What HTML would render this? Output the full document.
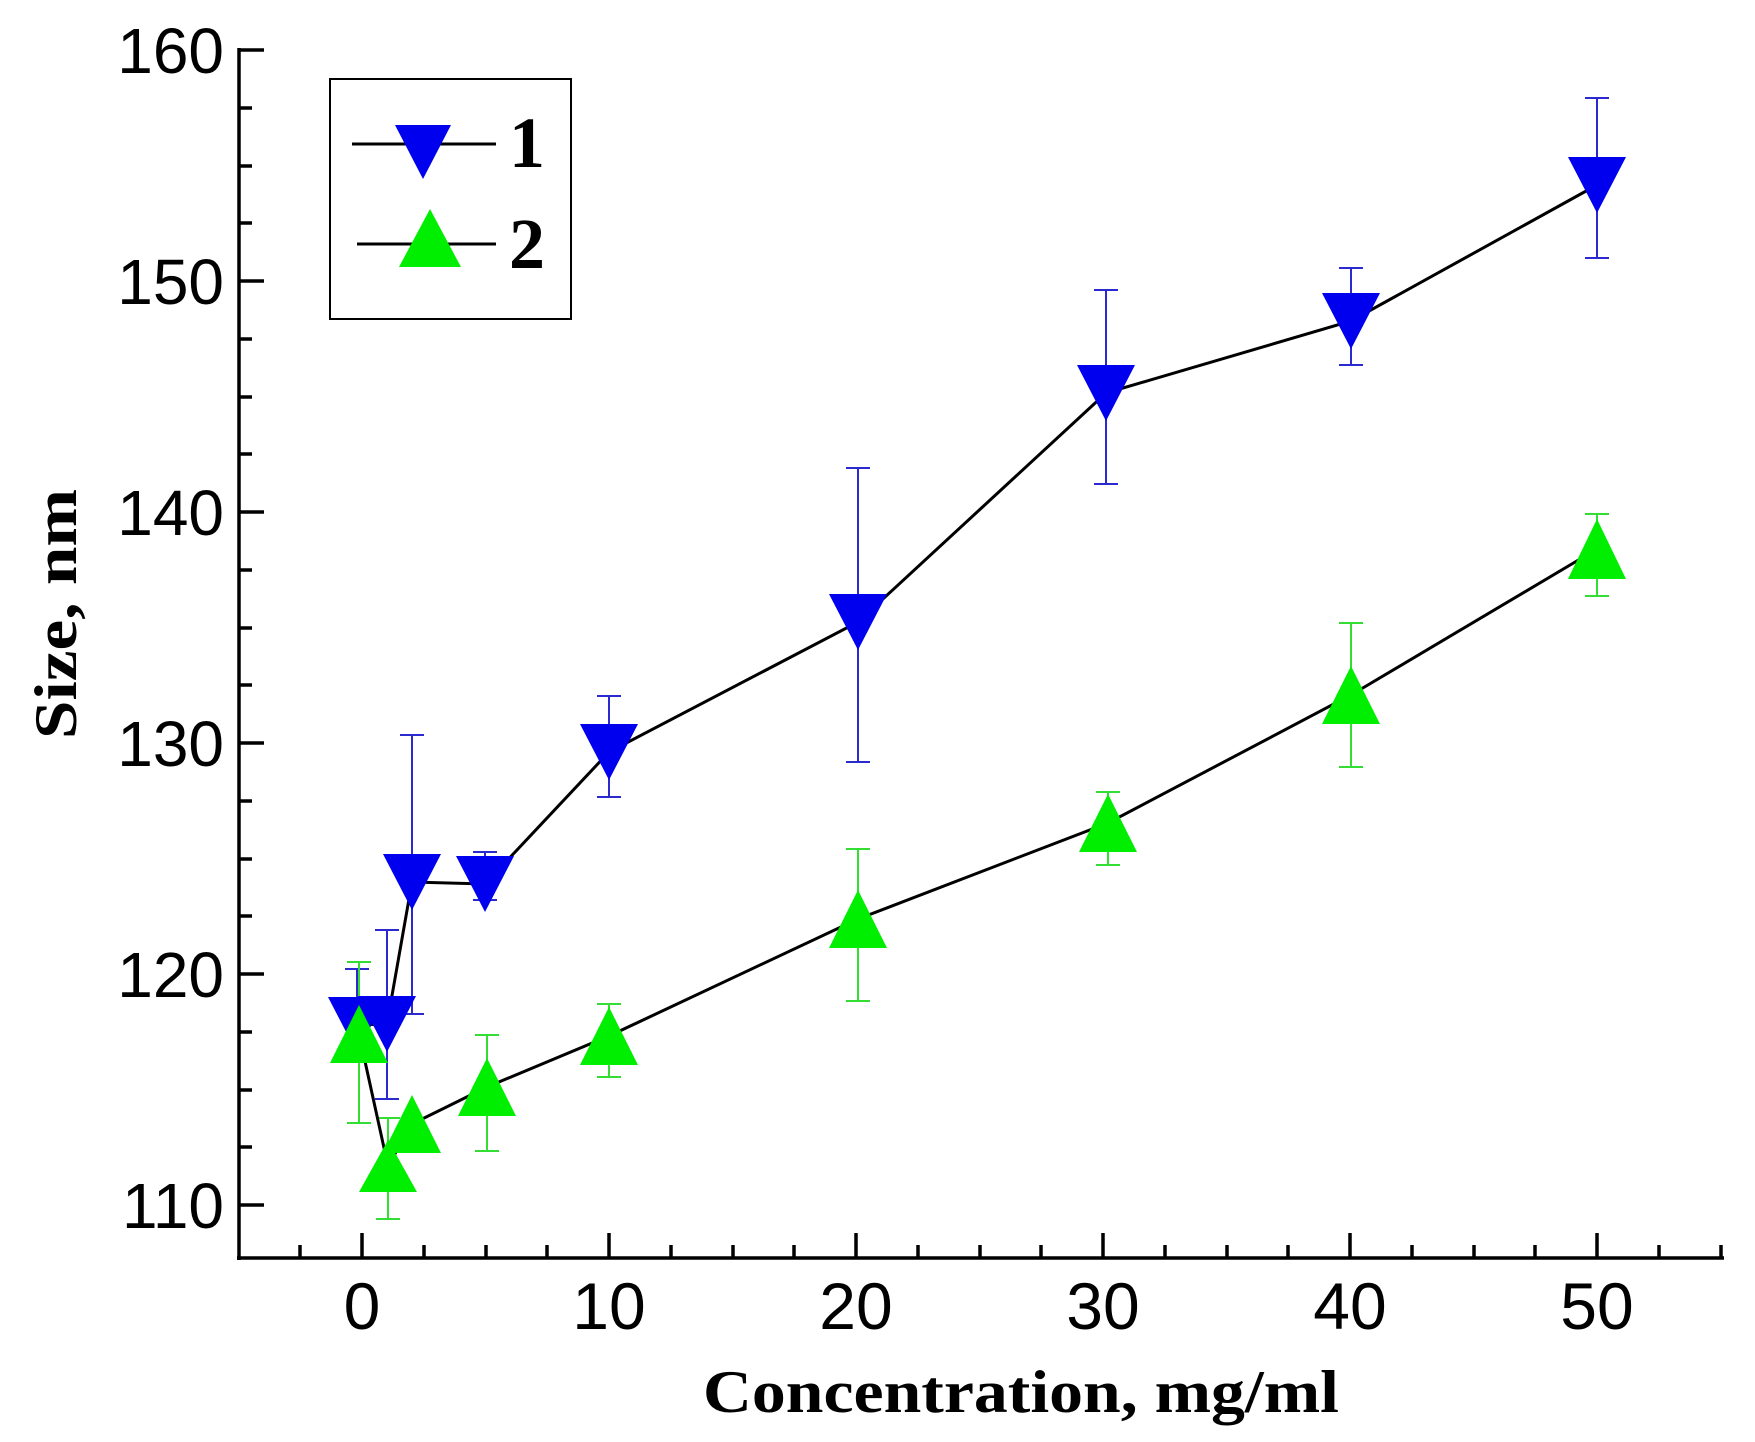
<!DOCTYPE html>
<html><head><meta charset="utf-8"><style>html,body{margin:0;padding:0;background:#fff}svg{display:block}</style></head>
<body>
<svg width="1755" height="1442" viewBox="0 0 1755 1442" xmlns="http://www.w3.org/2000/svg">
<rect width="1755" height="1442" fill="#fff"/>
<g stroke="#000" stroke-width="3.5" fill="none">
<line x1="239" y1="48" x2="239" y2="1260"/>
<line x1="237" y1="1258" x2="1724" y2="1258"/>
<line x1="239" y1="50" x2="264" y2="50"/><line x1="239" y1="281" x2="264" y2="281"/><line x1="239" y1="512" x2="264" y2="512"/><line x1="239" y1="743" x2="264" y2="743"/><line x1="239" y1="974" x2="264" y2="974"/><line x1="239" y1="1205" x2="264" y2="1205"/>
<line x1="239" y1="108" x2="252" y2="108"/><line x1="239" y1="166" x2="252" y2="166"/><line x1="239" y1="223" x2="252" y2="223"/>
<line x1="239" y1="339" x2="252" y2="339"/><line x1="239" y1="397" x2="252" y2="397"/><line x1="239" y1="454" x2="252" y2="454"/>
<line x1="239" y1="570" x2="252" y2="570"/><line x1="239" y1="628" x2="252" y2="628"/><line x1="239" y1="685" x2="252" y2="685"/>
<line x1="239" y1="801" x2="252" y2="801"/><line x1="239" y1="859" x2="252" y2="859"/><line x1="239" y1="916" x2="252" y2="916"/>
<line x1="239" y1="1032" x2="252" y2="1032"/><line x1="239" y1="1090" x2="252" y2="1090"/><line x1="239" y1="1147" x2="252" y2="1147"/>
<line x1="362" y1="1258" x2="362" y2="1233"/><line x1="609" y1="1258" x2="609" y2="1233"/><line x1="856" y1="1258" x2="856" y2="1233"/><line x1="1103" y1="1258" x2="1103" y2="1233"/><line x1="1350" y1="1258" x2="1350" y2="1233"/><line x1="1597" y1="1258" x2="1597" y2="1233"/>
<line x1="300" y1="1258" x2="300" y2="1245"/><line x1="424" y1="1258" x2="424" y2="1245"/><line x1="486" y1="1258" x2="486" y2="1245"/><line x1="547" y1="1258" x2="547" y2="1245"/>
<line x1="671" y1="1258" x2="671" y2="1245"/><line x1="733" y1="1258" x2="733" y2="1245"/><line x1="794" y1="1258" x2="794" y2="1245"/>
<line x1="918" y1="1258" x2="918" y2="1245"/><line x1="980" y1="1258" x2="980" y2="1245"/><line x1="1041" y1="1258" x2="1041" y2="1245"/>
<line x1="1165" y1="1258" x2="1165" y2="1245"/><line x1="1227" y1="1258" x2="1227" y2="1245"/><line x1="1288" y1="1258" x2="1288" y2="1245"/>
<line x1="1412" y1="1258" x2="1412" y2="1245"/><line x1="1474" y1="1258" x2="1474" y2="1245"/><line x1="1535" y1="1258" x2="1535" y2="1245"/>
<line x1="1659" y1="1258" x2="1659" y2="1245"/><line x1="1721" y1="1258" x2="1721" y2="1245"/>
</g>
<g font-family="Liberation Sans, sans-serif" font-size="64" fill="#000" text-anchor="end">
<text x="224" y="73">160</text><text x="224" y="304">150</text><text x="224" y="535">140</text><text x="224" y="766">130</text><text x="224" y="997">120</text><text x="224" y="1228">110</text>
</g>
<g font-family="Liberation Sans, sans-serif" font-size="66" fill="#000" text-anchor="middle">
<text x="362" y="1329">0</text><text x="609" y="1329">10</text><text x="856" y="1329">20</text><text x="1103" y="1329">30</text><text x="1350" y="1329">40</text><text x="1597" y="1329">50</text>
</g>
<text x="1021" y="1412" font-family="Liberation Serif, serif" font-weight="bold" font-size="60" text-anchor="middle" textLength="636" lengthAdjust="spacingAndGlyphs">Concentration, mg/ml</text>
<text transform="translate(76,614) rotate(-90)" font-family="Liberation Serif, serif" font-weight="bold" font-size="60" text-anchor="middle" textLength="250" lengthAdjust="spacingAndGlyphs">Size, nm</text>
<g stroke="#2a2ad0" stroke-width="2">
<line x1="357" y1="969" x2="357" y2="1020"/><line x1="345" y1="969" x2="369" y2="969"/>
<line x1="387" y1="930" x2="387" y2="1099"/><line x1="375" y1="930" x2="399" y2="930"/><line x1="375" y1="1099" x2="399" y2="1099"/>
<line x1="412" y1="735" x2="412" y2="1014"/><line x1="400" y1="735" x2="424" y2="735"/><line x1="400" y1="1014" x2="424" y2="1014"/>
<line x1="485" y1="852" x2="485" y2="900"/><line x1="473" y1="852" x2="497" y2="852"/><line x1="473" y1="900" x2="497" y2="900"/>
<line x1="609" y1="696" x2="609" y2="797"/><line x1="597" y1="696" x2="621" y2="696"/><line x1="597" y1="797" x2="621" y2="797"/>
<line x1="858" y1="468" x2="858" y2="762"/><line x1="846" y1="468" x2="870" y2="468"/><line x1="846" y1="762" x2="870" y2="762"/>
<line x1="1106" y1="290" x2="1106" y2="484"/><line x1="1094" y1="290" x2="1118" y2="290"/><line x1="1094" y1="484" x2="1118" y2="484"/>
<line x1="1351" y1="268" x2="1351" y2="365"/><line x1="1339" y1="268" x2="1363" y2="268"/><line x1="1339" y1="365" x2="1363" y2="365"/>
<line x1="1597" y1="98" x2="1597" y2="258"/><line x1="1585" y1="98" x2="1609" y2="98"/><line x1="1585" y1="258" x2="1609" y2="258"/>
</g>
<g stroke="#33dd33" stroke-width="2">
<line x1="359" y1="962" x2="359" y2="1123"/><line x1="347" y1="962" x2="371" y2="962"/><line x1="347" y1="1123" x2="371" y2="1123"/>
<line x1="388" y1="1118" x2="388" y2="1219"/><line x1="376" y1="1118" x2="400" y2="1118"/><line x1="376" y1="1219" x2="400" y2="1219"/>
<line x1="487" y1="1035" x2="487" y2="1151"/><line x1="475" y1="1035" x2="499" y2="1035"/><line x1="475" y1="1151" x2="499" y2="1151"/>
<line x1="609" y1="1004" x2="609" y2="1077"/><line x1="597" y1="1004" x2="621" y2="1004"/><line x1="597" y1="1077" x2="621" y2="1077"/>
<line x1="858" y1="849" x2="858" y2="1001"/><line x1="846" y1="849" x2="870" y2="849"/><line x1="846" y1="1001" x2="870" y2="1001"/>
<line x1="1108" y1="792" x2="1108" y2="865"/><line x1="1096" y1="792" x2="1120" y2="792"/><line x1="1096" y1="865" x2="1120" y2="865"/>
<line x1="1351" y1="623" x2="1351" y2="767"/><line x1="1339" y1="623" x2="1363" y2="623"/><line x1="1339" y1="767" x2="1363" y2="767"/>
<line x1="1597" y1="514" x2="1597" y2="596"/><line x1="1585" y1="514" x2="1609" y2="514"/><line x1="1585" y1="596" x2="1609" y2="596"/>
</g>
<polyline fill="none" stroke="#000" stroke-width="3" points="357,1025 387,1024 412,882 485,884 609,752 858,622 1106,393 1351,321 1597,185"/>
<polyline fill="none" stroke="#000" stroke-width="3" points="359,1034 388,1166 412,1124 487,1087 609,1036 858,919 1108,823 1351,695 1597,549"/>
<g fill="#0000ee">
<polygon points="328,997 386,997 357,1053"/>
<polygon points="358,996 416,996 387,1052"/>
<polygon points="383,854 441,854 412,910"/>
<polygon points="456,856 514,856 485,912"/>
<polygon points="580,724 638,724 609,780"/>
<polygon points="829,594 887,594 858,650"/>
<polygon points="1077,365 1135,365 1106,421"/>
<polygon points="1322,293 1380,293 1351,349"/>
<polygon points="1568,157 1626,157 1597,213"/>
</g>
<g fill="#00ee00">
<polygon points="359,1005 330,1063 388,1063"/>
<polygon points="388,1140 359,1192 417,1192"/>
<polygon points="412,1095 383,1153 441,1153"/>
<polygon points="487,1058 458,1116 516,1116"/>
<polygon points="609,1007 580,1065 638,1065"/>
<polygon points="858,890 829,948 887,948"/>
<polygon points="1108,794 1079,852 1137,852"/>
<polygon points="1351,666 1322,724 1380,724"/>
<polygon points="1597,519 1568,579 1626,579"/>
</g>
<rect x="330" y="79" width="241" height="240" fill="#fff" stroke="#000" stroke-width="2"/>
<line x1="352" y1="144" x2="496" y2="144" stroke="#000" stroke-width="3"/>
<polygon points="395,125 451,125 423,179" fill="#0000ee"/>
<line x1="357" y1="244" x2="496" y2="244" stroke="#000" stroke-width="3"/>
<polygon points="430,209 399,267 461,267" fill="#00ee00"/>
<text x="509" y="167" font-family="Liberation Serif, serif" font-weight="bold" font-size="72">1</text>
<text x="509" y="268" font-family="Liberation Serif, serif" font-weight="bold" font-size="72">2</text>
</svg>
</body></html>
